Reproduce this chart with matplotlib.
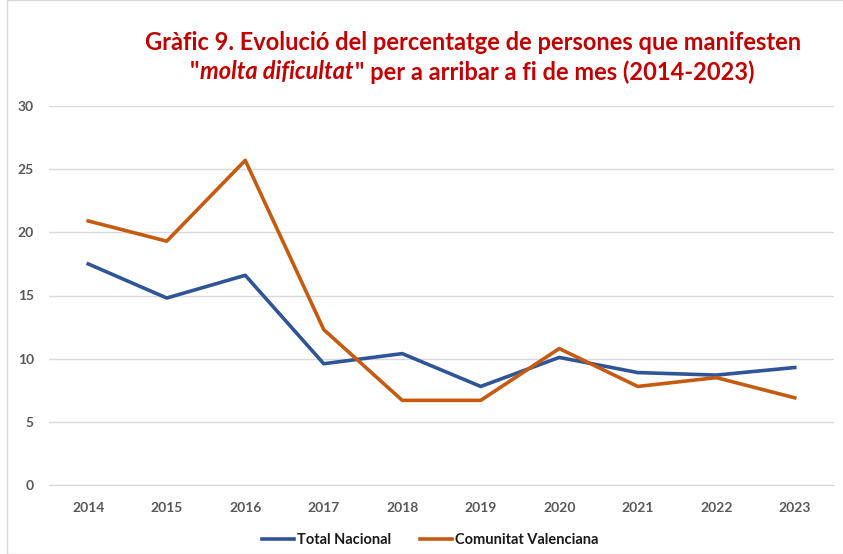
import matplotlib
matplotlib.use('Agg')
import matplotlib.pyplot as plt

years = ['2014', '2015', '2016', '2017', '2018', '2019', '2020', '2021', '2022', '2023']
total_nacional = [17.5, 14.8, 16.6, 9.6, 10.4, 7.8, 10.1, 8.9, 8.7, 9.3]
comunitat_valenciana = [20.9, 19.3, 25.7, 12.3, 6.7, 6.7, 10.8, 7.8, 8.5, 6.9]
yticks = [0, 5, 10, 15, 20, 25, 30]

plt.rcParams['font.family'] = ['Lato', 'DejaVu Sans']

fig = plt.figure(figsize=(8.43, 5.54), dpi=100)
ax = fig.add_axes([49 / 843, 1 - 485 / 554, (834 - 49) / 843, (485 - 106) / 554])

x = list(range(len(years)))
ax.plot(x, total_nacional, color='#2F5597', lw=2.6, label='Total Nacional')
ax.plot(x, comunitat_valenciana, color='#C55A11', lw=2.6, label='Comunitat Valenciana')

ax.set_xlim(-0.5, len(years) - 0.5)
ax.set_ylim(0, 30)
ax.set_yticks(yticks)
ax.set_xticks(x)
ax.set_xticklabels(years)
ax.grid(axis='y', color='#D9D9D9', lw=1)
ax.set_axisbelow(True)
for s in ['top', 'right', 'left']:
    ax.spines[s].set_visible(False)
ax.spines['bottom'].set_color('#D9D9D9')
ax.tick_params(length=0, colors='#595959', labelsize=10)
ax.tick_params(axis='y', pad=11)
ax.tick_params(axis='x', pad=12)
for lab in ax.get_xticklabels() + ax.get_yticklabels():
    lab.set_fontweight('bold')

red = '#C00000'
fig.text(0.561, 1 - 42 / 554, 'Gràfic 9. Evolució del percentatge de persones que manifesten',
         ha='center', va='center', color=red, fontsize=17, fontweight='bold')

# second title line: part of it in italics
parts = [('"', 'normal'), ('molta dificultat', 'italic'),
         ('" per a arribar a fi de mes (2014-2023)', 'normal')]
renderer = fig.canvas.get_renderer()
texts = []
for s, st in parts:
    t = fig.text(0, 1 - 72 / 554, s, ha='left', va='center', color=red,
                 fontsize=17, fontweight='bold', fontstyle=st)
    texts.append(t)
widths = [t.get_window_extent(renderer).width / fig.bbox.width for t in texts]
xpos = 0.559 - sum(widths) / 2
for t, w in zip(texts, widths):
    t.set_x(xpos)
    xpos += w + 1 / 843

leg = fig.legend(loc='center', bbox_to_anchor=(0.51, 1 - 540 / 554), ncol=2, frameon=False,
                 fontsize=10.5, handlelength=2.2, columnspacing=2.0, handletextpad=0.2)
for t in leg.get_texts():
    t.set_fontweight('bold')
    t.set_color('#1a1a1a')

border = plt.Rectangle((7 / 843, 0), 1, 1, transform=fig.transFigure, fill=False,
                       edgecolor='#D9D9D9', lw=1)
fig.patches.append(border)

fig.savefig('out.png', dpi=100)
